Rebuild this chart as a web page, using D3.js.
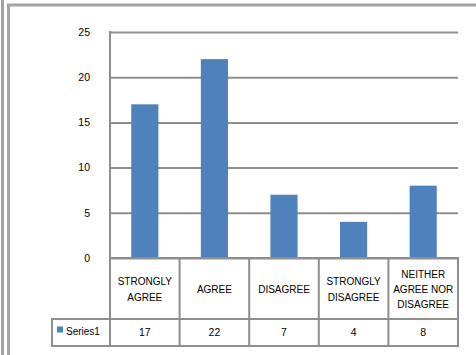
<!DOCTYPE html>
<html lang="en">
<head>
<meta charset="UTF-8">
<title>Responses</title>
<style>
  body { margin: 0; background: #fff; }
  svg { display: block; font-family: "Liberation Sans", Arial, sans-serif; }
</style>
</head>
<body>
<div id="chart"></div>
<script src="https://d3js.org/d3.v7.min.js"></script>
<script>
const categories = ["STRONGLY AGREE", "AGREE", "DISAGREE", "STRONGLY DISAGREE", "NEITHER AGREE NOR DISAGREE"];
const categoryLines = [["STRONGLY", "AGREE"], ["AGREE"], ["DISAGREE"], ["STRONGLY", "DISAGREE"], ["NEITHER", "AGREE NOR", "DISAGREE"]];
const series1 = [17, 22, 7, 4, 8];
const seriesName = "Series1";
const yTicks = [0, 5, 10, 15, 20, 25];

const W = 476, H = 355;
const plotLeft = 110, plotRight = 458, plotTop = 32, plotBottom = 258;
const catRow = 319, valRow = 346, legendLeft = 52;
const lineColor = "#8e8e8e";

const svg = d3.select("#chart").append("svg")
    .attr("width", W)
    .attr("height", H);

// outer frame
svg.append("line")
    .attr("x1", 2.5).attr("x2", 2.5).attr("y1", 0).attr("y2", H)
    .attr("stroke", "#a3a3a3").attr("stroke-width", 3);
svg.append("rect")
    .attr("x", 8.5).attr("y", 5).attr("width", W + 10).attr("height", H + 10)
    .attr("fill", "none").attr("stroke", "#a3a3a3").attr("stroke-width", 3);

const x = d3.scaleBand().domain(categories).range([plotLeft, plotRight]).padding(0);
const y = d3.scaleLinear().domain([0, 25]).range([plotBottom, plotTop]);

// gridlines + y labels
const yAxis = svg.append("g")
    .attr("transform", `translate(${plotLeft},0)`)
    .call(d3.axisLeft(y).tickValues(yTicks).tickSize(-(plotRight - plotLeft)).tickPadding(20));
yAxis.select(".domain").remove();
yAxis.selectAll(".tick line")
    .attr("stroke", lineColor).attr("stroke-width", 2);
yAxis.selectAll(".tick text")
    .attr("font-size", 10.5).attr("fill", "#000")
    .attr("font-family", "Liberation Sans, Arial, sans-serif");

// bars
const barW = x.bandwidth() * 0.39;
svg.selectAll(".bar")
    .data(series1)
    .enter()
    .append("rect")
    .attr("class", "bar")
    .attr("x", (d, i) => x(categories[i]) + (x.bandwidth() - barW) / 2)
    .attr("y", d => y(d))
    .attr("width", barW)
    .attr("height", d => y(0) - y(d))
    .attr("fill", "#4f81bd");

// value axis line
svg.append("line")
    .attr("x1", plotLeft).attr("x2", plotLeft).attr("y1", plotTop - 1).attr("y2", valRow + 1)
    .attr("stroke", lineColor).attr("stroke-width", 2);

// data table
const table = svg.append("g").attr("stroke", lineColor).attr("stroke-width", 2);
[catRow, valRow].forEach(yy => {
    table.append("line")
        .attr("x1", legendLeft - 1).attr("x2", plotRight + 1).attr("y1", yy).attr("y2", yy);
});
table.append("line")
    .attr("x1", plotLeft).attr("x2", plotRight + 1).attr("y1", plotBottom).attr("y2", plotBottom);
table.append("line")
    .attr("x1", legendLeft).attr("x2", legendLeft).attr("y1", catRow).attr("y2", valRow + 1);
categories.forEach(c => {
    table.append("line")
        .attr("x1", x(c) + x.bandwidth()).attr("x2", x(c) + x.bandwidth())
        .attr("y1", plotBottom).attr("y2", valRow + 1);
});

// category labels
const lineH = 15.3;
const catMid = 289.5;
categoryLines.forEach((lines, i) => {
    const cx = x(categories[i]) + x.bandwidth() / 2;
    const t = svg.append("text")
        .attr("text-anchor", "middle")
        .attr("font-size", 10)
        .attr("fill", "#000");
    lines.forEach((ln, j) => {
        t.append("tspan")
            .attr("x", cx)
            .attr("y", catMid + (j - (lines.length - 1) / 2) * lineH)
            .attr("dy", "0.35em")
            .text(ln);
    });
});

// values
svg.selectAll(".val")
    .data(series1)
    .enter()
    .append("text")
    .attr("class", "val")
    .attr("x", (d, i) => x(categories[i]) + x.bandwidth() / 2)
    .attr("y", 332.5)
    .attr("dy", "0.35em")
    .attr("text-anchor", "middle")
    .attr("font-size", 10.5)
    .text(d => d);

// legend key
svg.append("rect")
    .attr("x", 57).attr("y", 326.5).attr("width", 6).attr("height", 6)
    .attr("fill", "#4f81bd");
svg.append("text")
    .attr("x", 66).attr("y", 331.5).attr("dy", "0.35em")
    .attr("font-size", 10)
    .text(seriesName);
</script>
</body>
</html>
